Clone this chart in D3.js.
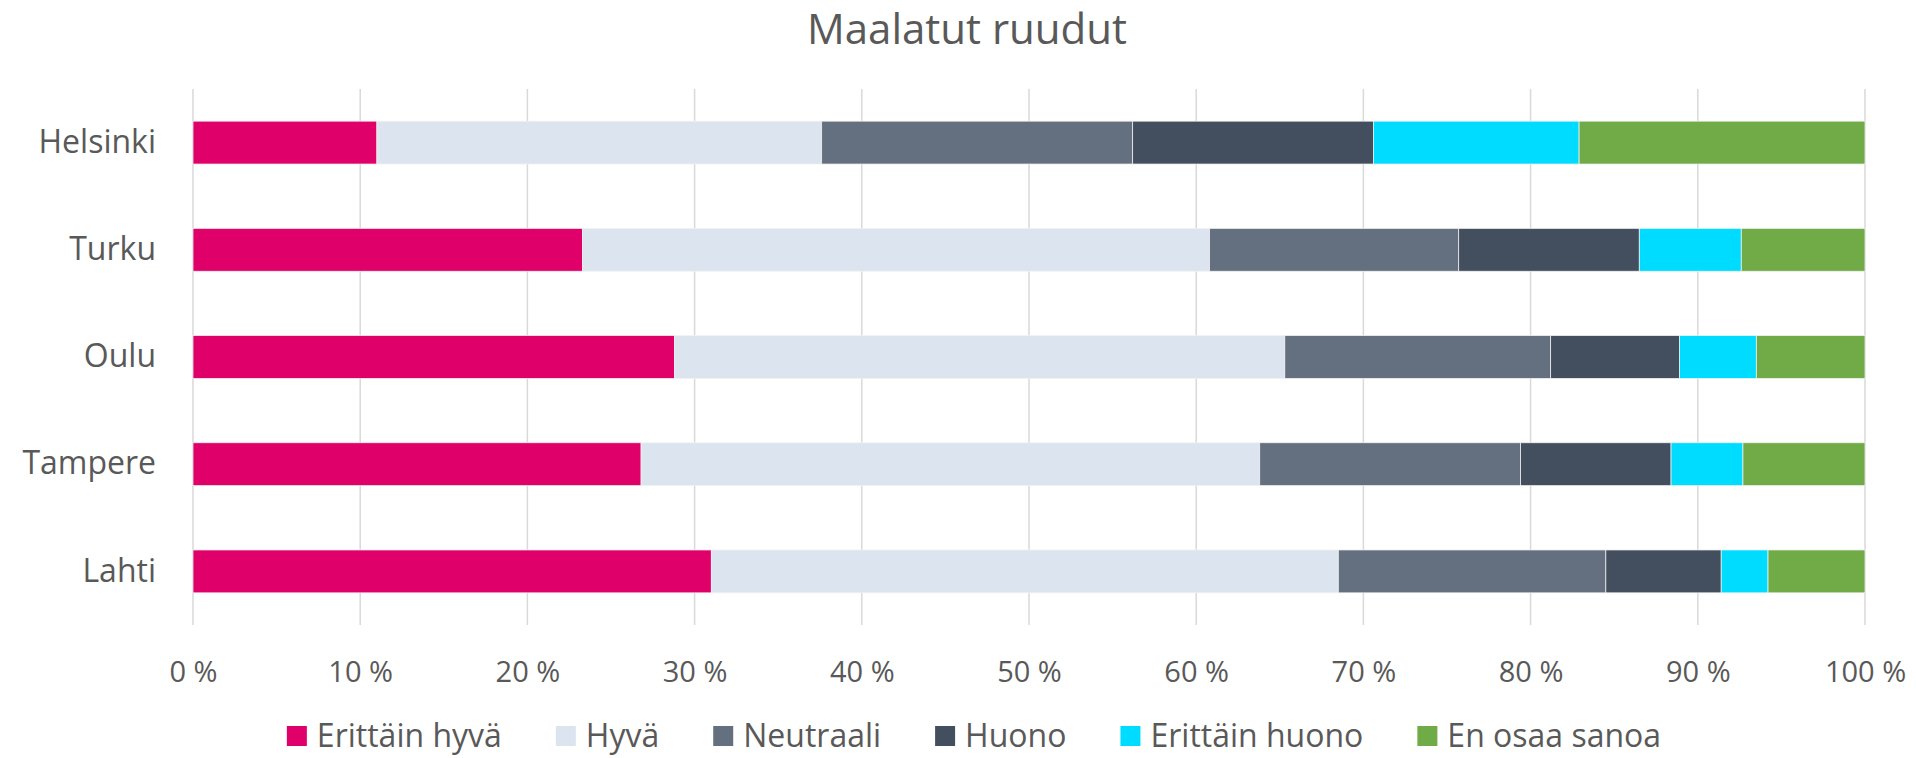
<!DOCTYPE html>
<html>
<head>
<meta charset="utf-8">
<style>
  body { margin: 0; background: #fff; }
  svg text { font-family: "Open Sans", Lato, sans-serif; fill: #595959; }
</style>
</head>
<body>
<svg width="1916" height="758"></svg>
<script src="https://cdn.jsdelivr.net/npm/d3@7"></script>
<script>

// Vastaukset kaupungeittain, prosentteina
var cities = ["Helsinki", "Turku", "Oulu", "Tampere", "Lahti"];
var keys = ["Erittäin hyvä", "Hyvä", "Neutraali", "Huono", "Erittäin huono", "En osaa sanoa"];
var colors = ["#e0006a", "#dce5ef", "#64707f", "#434f5f", "#00dcff", "#70ab47"];

var erittainHyva   = [11.0, 23.3, 28.8, 26.8, 31.0];
var hyva           = [26.6, 37.5, 36.5, 37.0, 37.5];
var neutraali      = [18.6, 14.9, 15.9, 15.6, 16.0];
var huono          = [14.4, 10.8, 7.7, 9.0, 6.9];
var erittainHuono  = [12.3, 6.1, 4.6, 4.3, 2.8];
var enOsaaSanoa    = [17.1, 7.4, 6.5, 7.3, 5.8];

var xTicks = [0, 10, 20, 30, 40, 50, 60, 70, 80, 90, 100];

var series = [erittainHyva, hyva, neutraali, huono, erittainHuono, enOsaaSanoa];
var data = cities.map(function(c, i) {
  var row = {city: c};
  keys.forEach(function(k, j) { row[k] = series[j][i]; });
  return row;
});

var svg = d3.select("svg"),
    margin = {top: 89, right: 51, bottom: 133, left: 193},
    width = +svg.attr("width") - margin.left - margin.right,
    height = +svg.attr("height") - margin.top - margin.bottom,
    g = svg.append("g").attr("transform", "translate(" + margin.left + "," + margin.top + ")");

var x = d3.scaleLinear().domain([0, 100]).range([0, width]);
var y = d3.scaleBand().domain(cities).range([0, height]).paddingInner(0.6).paddingOuter(0.3);
var z = d3.scaleOrdinal().domain(keys).range(colors);

svg.append("text")
    .attr("x", 967)
    .attr("y", 44)
    .attr("text-anchor", "middle")
    .attr("font-size", 42)
    .text("Maalatut ruudut");

// ruudukko
g.append("g")
  .selectAll("line")
  .data(xTicks)
  .enter().append("line")
    .attr("x1", function(d) { return x(d); })
    .attr("x2", function(d) { return x(d); })
    .attr("y1", 0)
    .attr("y2", height)
    .attr("stroke", "#d9d9d9")
    .attr("stroke-width", 1.5);

var stack = d3.stack().keys(keys)(data);

g.append("g")
  .selectAll("g")
  .data(stack)
  .enter().append("g")
    .attr("fill", function(d) { return z(d.key); })
  .selectAll("rect")
  .data(function(d) { return d; })
  .enter().append("rect")
    .attr("x", function(d) { return x(d[0]); })
    .attr("y", function(d) { return y(d.data.city); })
    .attr("width", function(d) { return x(d[1]) - x(d[0]); })
    .attr("height", y.bandwidth())
    .attr("stroke", "#f2f2f2")
    .attr("stroke-width", 0.75);

// akselit
var xAxis = g.append("g")
    .attr("transform", "translate(0," + height + ")")
    .call(d3.axisBottom(x).tickValues(xTicks).tickSize(0).tickPadding(36)
      .tickFormat(function(d) { return d + " %"; }));
xAxis.select(".domain").remove();
xAxis.selectAll("text").attr("font-size", 29).attr("fill", "#595959");

var yAxis = g.append("g")
    .call(d3.axisLeft(y).tickSize(0).tickPadding(37));
yAxis.select(".domain").remove();
yAxis.selectAll("text").attr("font-size", 32).attr("fill", "#595959");

// selite
var legend = svg.append("g").attr("transform", "translate(0,736)");
var items = legend.selectAll("g")
  .data(keys)
  .enter().append("g");

items.append("rect")
    .attr("y", -10)
    .attr("width", 20)
    .attr("height", 20)
    .attr("fill", z);

items.append("text")
    .attr("x", 30)
    .attr("dy", "0.35em")
    .attr("font-size", 32)
    .text(function(d) { return d; });

var gap = 54, pos = 0, offsets = [];
items.each(function() {
  offsets.push(pos);
  pos += this.getBBox().width + gap;
});
var total = pos - gap;
var start = 974 - total / 2;
items.attr("transform", function(d, i) { return "translate(" + (start + offsets[i]) + ",0)"; });

</script>
</body>
</html>
